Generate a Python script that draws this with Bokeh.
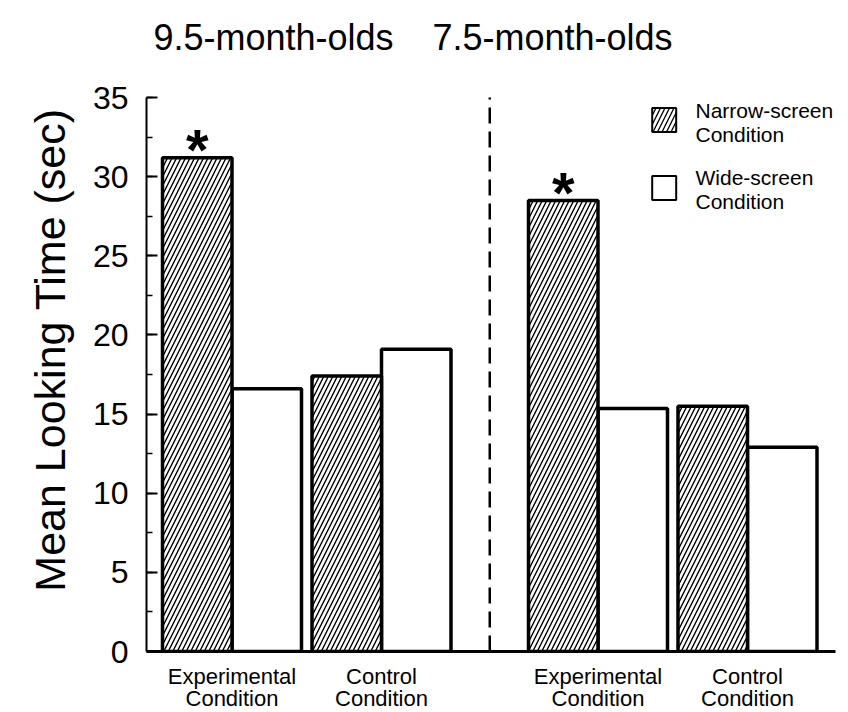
from bokeh.plotting import figure
from bokeh.models import Range1d, Label, SingleIntervalTicker, FixedTicker
from bokeh.core.properties import value
from bokeh.embed import file_html
from bokeh.resources import INLINE

# ---------------- data ----------------
age_groups = ["9.5-month-olds", "7.5-month-olds"]
condition_labels = ["Experimental\nCondition", "Control\nCondition"]
screen_names = [["Narrow-screen", "Condition"], ["Wide-screen", "Condition"]]
# order: (9.5 exp), (9.5 ctl), (7.5 exp), (7.5 ctl)
narrow_screen = [31.2, 17.4, 28.5, 15.5]
wide_screen = [16.6, 19.1, 15.35, 12.9]
significant = [True, False, True, False]
y_min, y_max, y_step = 0, 35, 5
y_title = "Mean Looking Time (sec)"

# ---------------- layout ----------------
FONT = "Liberation Sans"
AXIS_H = 554                # px from y_min to y_max
TOP_PAD = 97                # px above y_max (headings, legend)
FW, FH = 689, AXIS_H + TOP_PAD
PX = (y_max - y_min) / AXIS_H   # data units per pixel (y)
BAR_W = 69.5
OFFSET = 16
COND_STEP = 149.5
AGE_STEP = 366

lefts = []
for i in range(len(narrow_screen)):
    age, cond = divmod(i, 2)
    lefts.append(OFFSET + age * AGE_STEP + cond * COND_STEP)
narrow_x = [l + BAR_W / 2 for l in lefts]
wide_x = [l + BAR_W * 1.5 for l in lefts]
pair_x = [l + BAR_W for l in lefts]
separator_x = ((lefts[1] + 2 * BAR_W) + lefts[2]) / 2

p = figure(frame_width=FW, frame_height=FH,
           x_range=Range1d(0, FW), y_range=Range1d(y_min, y_max + TOP_PAD * PX),
           output_backend="svg", toolbar_location=None,
           min_border_left=146, min_border_right=13,
           min_border_top=0, min_border_bottom=61)
p.background_fill_color = "white"
p.border_fill_color = "white"
p.outline_line_color = None
p.xgrid.visible = False
p.ygrid.visible = False

# y axis
ya = p.yaxis[0]
ya.bounds = (y_min, y_max)
ya.ticker = SingleIntervalTicker(interval=y_step, num_minor_ticks=2)
ya.axis_line_width = 2
ya.axis_line_color = "black"
ya.major_tick_in = 11
ya.major_tick_out = 0
ya.minor_tick_in = 6
ya.minor_tick_out = 0
ya.major_tick_line_width = 2
ya.minor_tick_line_width = 1.5
ya.major_tick_line_color = "black"
ya.minor_tick_line_color = "black"
ya.major_label_text_font = FONT
ya.major_label_text_font_size = "32px"
ya.major_label_text_color = "black"
ya.major_label_standoff = 18
ya.axis_label = y_title + "\u00a0\u00a0\u00a0\u00a0"
ya.axis_label_text_font = FONT
ya.axis_label_text_font_size = "43px"
ya.axis_label_text_font_style = "normal"
ya.axis_label_text_color = "black"
ya.axis_label_standoff = 16

# x axis: condition names under each bar pair
xa = p.xaxis[0]
xa.ticker = FixedTicker(ticks=pair_x)
xa.major_label_overrides = {x: condition_labels[i % 2] for i, x in enumerate(pair_x)}
xa.axis_line_width = 3
xa.axis_line_color = "black"
xa.major_tick_line_color = None
xa.minor_tick_line_color = None
xa.major_tick_in = 0
xa.major_tick_out = 0
xa.major_label_text_font = FONT
xa.major_label_text_font_size = "22px"
xa.major_label_text_color = "black"
xa.major_label_text_line_height = 0.9
xa.major_label_standoff = 12

# bars
p.vbar(x=wide_x, width=BAR_W, top=wide_screen, bottom=0,
       fill_color="white", line_color="black", line_width=3.5)
p.vbar(x=narrow_x, width=BAR_W, top=narrow_screen, bottom=0,
       fill_color="white", hatch_pattern="/", hatch_color="black",
       hatch_scale=9, hatch_weight=1.4, line_color="black", line_width=3.5)

# significance asterisks
sig_x = [x for x, s in zip(narrow_x, significant) if s]
sig_y = [v for v, s in zip(narrow_screen, significant) if s]
p.text(x=sig_x, y=sig_y, text=["*"] * len(sig_x), text_align="center",
       text_baseline="alphabetic", y_offset=-8,
       text_font=value(FONT), text_font_style="bold", text_font_size="58px",
       text_color="black")

# separator between age groups
p.segment(x0=[separator_x], y0=[y_min], x1=[separator_x], y1=[y_max],
          line_color="black", line_width=2.5, line_dash="16 8")

# age-group headings
heading_x = [7, 286]
for t, hx in zip(age_groups, heading_x):
    p.add_layout(Label(x=hx, y=y_max, y_offset=60, text=t, text_align="left",
                       text_baseline="alphabetic", text_font=FONT,
                       text_font_size="36px", text_color="black"))

# legend (manual)
box_x = 517.7
box_y = [y_max - 22.5 * PX, y_max - 90.5 * PX]
p.rect(x=[box_x], y=[box_y[0]], width=24, height=24, width_units="screen",
       height_units="screen", fill_color="white", hatch_pattern="/",
       hatch_color="black", hatch_scale=9, hatch_weight=1.3,
       line_color="black", line_width=2)
p.rect(x=[box_x], y=[box_y[1]], width=24, height=24, width_units="screen",
       height_units="screen", fill_color="white", line_color="black", line_width=2)
leg_offsets = [[-13, -37], [-80, -104]]
for lines, offs in zip(screen_names, leg_offsets):
    for line, off in zip(lines, offs):
        p.add_layout(Label(x=549, y=y_max, y_offset=off, text=line,
                           text_align="left", text_baseline="alphabetic",
                           text_font=FONT, text_font_size="21px", text_color="black"))

open("out.html", "w").write(file_html(p, INLINE))
